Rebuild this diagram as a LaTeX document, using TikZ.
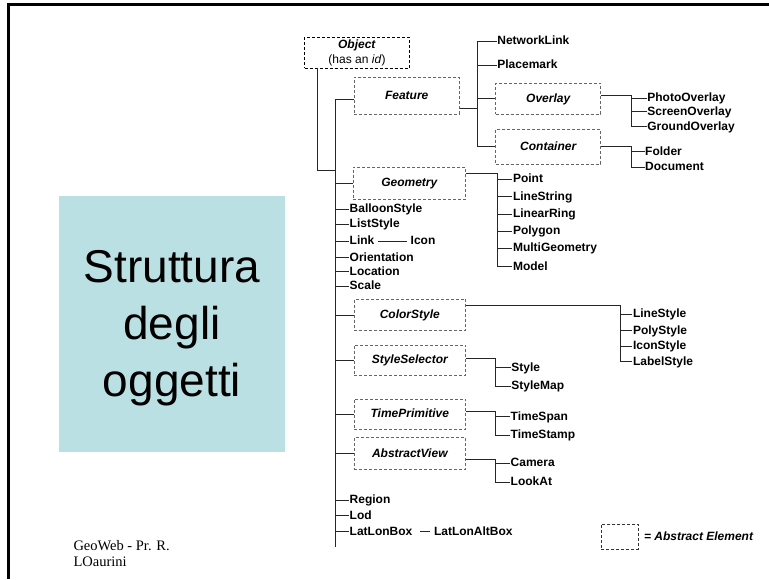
\documentclass[tikz,border=0pt]{standalone}
\usepackage{fontspec}
\setmainfont{Liberation Sans}
\newfontfamily\footfont{Liberation Serif}
\definecolor{titlebg}{RGB}{187,224,227}
\begin{document}
\begin{tikzpicture}[x=1pt,y=-1pt,
  leaf/.style={anchor=west,inner xsep=0.5pt,inner ysep=0pt,text height=8.6pt,text depth=1.5pt,font=\fontsize{12}{14}\selectfont\bfseries},
  absbox/.style={draw=black!60,line width=0.9pt,dash pattern=on 3pt off 2pt,inner sep=0pt,text height=8.6pt,text depth=1.5pt,minimum width=111.7,minimum height=31.4,font=\fontsize{12}{14}\selectfont\bfseries\itshape},
  link/.style={line width=0.8pt,black!85}]
\useasboundingbox (0,0) rectangle (769,579);
\draw[line width=2.7pt] (8.7,579) -- (8.7,4.8) -- (769,4.8);
%
\fill[titlebg] (59,196) rectangle (285,452);
\node[align=center,inner sep=0pt,font=\fontsize{46}{57}\selectfont] (title) at (172,328.3) {Struttura\\degli\\oggetti};
\node[anchor=north west,align=left,inner sep=0pt,font=\footfont\fontsize{14.5}{16.7}\selectfont] (foot) at (73.3,540) {GeoWeb - Pr. R.\\LOaurini};
%
\node[draw,line width=0.7pt,dash pattern=on 3pt off 2pt,minimum width=104.6,minimum height=30.7,inner sep=0pt,align=center,font=\fontsize{12}{14.5}\selectfont] (obj) at (357,52.7) {\textbf{\textit{Object}}\\(has an \textit{id})};
%
\node[absbox,minimum width=105.3,minimum height=36.7] (feat) at (406.7,95.7) {Feature};
\node[absbox,minimum width=112.7,minimum height=32] (geo) at (409.3,183) {Geometry};
\node[absbox] (cs) at (409.8,315) {ColorStyle};
\node[absbox,minimum height=30.7] (ssel) at (409.8,360.3) {StyleSelector};
\node[absbox,minimum height=30.3] (tprim) at (409.8,414.2) {TimePrimitive};
\node[absbox] (aview) at (409.8,453.5) {AbstractView};
\node[absbox,minimum width=105,minimum height=31] (ovl) at (548.2,98.8) {Overlay};
\node[absbox,minimum width=105,minimum height=34.7] (cont) at (548.2,146.7) {Container};
%
\node[leaf] (nl) at (496.7,41) {NetworkLink};
\node[leaf] (pm) at (496.7,65) {Placemark};
\node[leaf] (po) at (646.7,98.3) {PhotoOverlay};
\node[leaf] (so) at (646.7,111.7) {ScreenOverlay};
\node[leaf] (go) at (646.7,126.7) {GroundOverlay};
\node[leaf] (fo) at (644.5,151.7) {Folder};
\node[leaf] (doc) at (644.5,167.3) {Document};
%
\node[leaf] (pt) at (512.3,179.3) {Point};
\node[leaf] (ls) at (512.3,196.7) {LineString};
\node[leaf] (lr) at (512.3,214) {LinearRing};
\node[leaf] (pg) at (512.3,231) {Polygon};
\node[leaf] (mg) at (512.3,248.3) {MultiGeometry};
\node[leaf] (mdl) at (512.3,266.7) {Model};
%
\node[leaf] (bs) at (349,209.3) {BalloonStyle};
\node[leaf] (lst) at (349,224) {ListStyle};
\node[leaf] (lnk) at (349,241) {Link};
\node[leaf] (icon) at (410,241) {Icon};
\node[leaf] (ori) at (349,257.7) {Orientation};
\node[leaf] (loc) at (349,271.7) {Location};
\node[leaf] (sca) at (349,286) {Scale};
%
\node[leaf] (lsy) at (632.3,314.3) {LineStyle};
\node[leaf] (psy) at (632.3,330.7) {PolyStyle};
\node[leaf] (isy) at (632.3,346) {IconStyle};
\node[leaf] (lbs) at (632.3,361.7) {LabelStyle};
%
\node[leaf] (sty) at (510.7,367.7) {Style};
\node[leaf] (smp) at (510.7,386) {StyleMap};
\node[leaf] (tsp) at (510,416.7) {TimeSpan};
\node[leaf] (tst) at (510,435) {TimeStamp};
\node[leaf] (cam) at (510,463.3) {Camera};
\node[leaf] (lka) at (510,482.3) {LookAt};
%
\node[leaf] (reg) at (349,500) {Region};
\node[leaf] (lod) at (349,515.7) {Lod};
\node[leaf] (llb) at (349,531.7) {LatLonBox};
\node[leaf] (llab) at (433.3,531.7) {LatLonAltBox};
%
\node[absbox,draw=black!80,line width=0.7pt,minimum width=37.3,minimum height=24.7] (leg) at (619.7,536.7) {};
\node[leaf,font=\fontsize{12}{14}\selectfont\bfseries\itshape] (legt) at (643.3,536.7) {= Abstract Element};
%
\coordinate (tt) at (335,99);
\coordinate (tb) at (335,547);
\coordinate (oj) at (335,170);
\draw[link] (tt) -- (tb);
\draw[link] ([xshift=12.6pt]obj.south west) |- (oj);
\draw[link] (tt) -- (feat.west|-tt);
\foreach \n in {geo,cs,ssel,tprim,aview,bs,lst,lnk,ori,loc,sca,reg,lod,llb}
  \draw[link] (\n.west) -- (\n.west-|tt);
\draw[link] ([xshift=3pt]lnk.east) -- ([xshift=-3pt]icon.west);
\draw[link] ([xshift=7pt]llb.east) -- ([xshift=-3pt]llab.west);
%
\coordinate (fb) at (477,108);
\draw[link] (feat.east|-fb) -- (fb);
\foreach \n in {nl,pm,ovl,cont} \draw[link] (fb) |- (\n.west);
%
\coordinate (ob) at (631.7,95.7);
\draw[link] (ovl.east|-ob) -- (ob);
\foreach \n in {po,so,go} \draw[link] (ob) |- (\n.west);
%
\coordinate (cb) at (631.7,146);
\draw[link] (cont.east|-cb) -- (cb);
\foreach \n in {fo,doc} \draw[link] (cb) |- (\n.west);
%
\coordinate (gb) at (497.7,173.3);
\draw[link] (geo.east|-gb) -- (gb);
\foreach \n in {pt,ls,lr,pg,mg,mdl} \draw[link] (gb) |- (\n.west);
%
\coordinate (csb) at (620,305);
\draw[link] (cs.east|-csb) -- (csb);
\foreach \n in {lsy,psy,isy,lbs} \draw[link] (csb) |- (\n.west);
%
\coordinate (ssb) at (495.7,358.3);
\draw[link] (ssel.east|-ssb) -- (ssb);
\foreach \n in {sty,smp} \draw[link] (ssb) |- (\n.west);
%
\coordinate (tpb) at (495.7,411);
\draw[link] (tprim.east|-tpb) -- (tpb);
\foreach \n in {tsp,tst} \draw[link] (tpb) |- (\n.west);
%
\coordinate (avb) at (495.7,459.3);
\draw[link] (aview.east|-avb) -- (avb);
\foreach \n in {cam,lka} \draw[link] (avb) |- (\n.west);
\end{tikzpicture}
\end{document}
